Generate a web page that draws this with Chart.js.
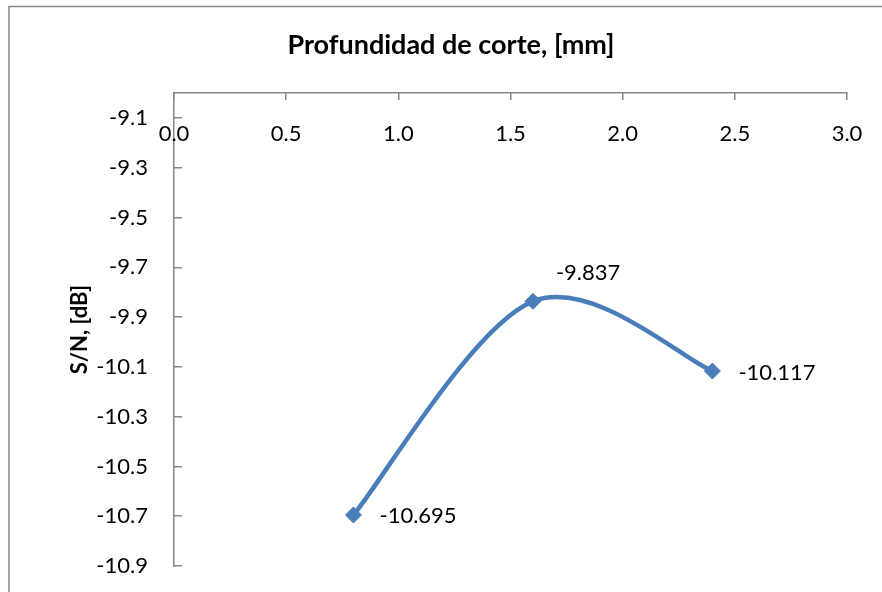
<!DOCTYPE html>
<html><head><meta charset="utf-8">
<script src="https://cdn.jsdelivr.net/npm/chart.js@4/dist/chart.umd.min.js"></script>
<style>html,body{margin:0;padding:0;background:#fff}</style>
</head><body>
<canvas id="c" width="882" height="592"></canvas>
<script>
const depthValues = [0.8, 1.6, 2.4];
const snValues = [-10.695, -9.837, -10.117];
const xTickValues = [0.0, 0.5, 1.0, 1.5, 2.0, 2.5, 3.0];
const yTickValues = [-10.9, -10.7, -10.5, -10.3, -10.1, -9.9, -9.7, -9.5, -9.3, -9.1];
const chartTitle = 'Profundidad de corte, [mm]';
const yTitle = 'S/N, [dB]';

const FONT = "Lato, 'Open Sans', sans-serif";
const AXIS = '#868686';
const LINE = '#4A7EBB';

const frame = {
  id: 'frame',
  beforeDraw(chart) {
    const ctx = chart.ctx;
    ctx.save();
    ctx.fillStyle = '#fff';
    ctx.fillRect(0, 0, chart.width, chart.height);
    ctx.strokeStyle = AXIS;
    ctx.lineWidth = 1.5;
    ctx.strokeRect(9, 6.5, 2000, 2000);
    ctx.restore();
  }
};

// Spreadsheet-style smoothing: control points at +/- (next - prev) * k around each point
const sheetSmooth = {
  id: 'sheetSmooth',
  beforeDatasetsDraw(chart, args, opts) {
    chart.data.datasets.forEach((ds, di) => {
      const meta = chart.getDatasetMeta(di);
      const line = meta.dataset;
      if (!line) return;
      line.updateControlPoints(chart.chartArea, 'x');
      const pts = meta.data;
      const k = opts.factor;
      pts.forEach((p, i) => {
        const prev = pts[Math.max(i - 1, 0)];
        const next = pts[Math.min(i + 1, pts.length - 1)];
        const dx = (next.x - prev.x) * k, dy = (next.y - prev.y) * k;
        p.cp1x = p.x - dx; p.cp1y = p.y - dy;
        p.cp2x = p.x + dx; p.cp2y = p.y + dy;
      });
      line._path = undefined;
    });
  }
};

const xLabels = {
  id: 'xLabels',
  afterDraw(chart, args, opts) {
    const s = chart.scales.x, ctx = chart.ctx;
    ctx.save();
    ctx.font = opts.size + 'px ' + FONT;
    ctx.fillStyle = '#000';
    ctx.textAlign = 'center';
    ctx.textBaseline = 'middle';
    s.ticks.forEach(t => ctx.fillText(t.value.toFixed(1), s.getPixelForValue(t.value), chart.chartArea.top + opts.offset));
    ctx.restore();
  }
};

const dataLabels = {
  id: 'dataLabels',
  afterDatasetsDraw(chart, args, opts) {
    const ctx = chart.ctx;
    const meta = chart.getDatasetMeta(0);
    ctx.save();
    ctx.font = opts.size + 'px ' + FONT;
    ctx.fillStyle = '#000';
    ctx.textAlign = 'left';
    ctx.textBaseline = 'middle';
    meta.data.forEach((pt, i) => {
      const o = opts.offsets[i];
      ctx.fillText(snValues[i].toFixed(3), pt.x + o[0], pt.y + o[1]);
    });
    ctx.restore();
  }
};

new Chart(document.getElementById('c'), {
  type: 'line',
  data: {
    datasets: [{
      data: depthValues.map((x, i) => ({x, y: snValues[i]})),
      borderColor: LINE,
      backgroundColor: LINE,
      borderWidth: 4.5,
      tension: 0.4,
      pointStyle: 'rectRot',
      pointRadius: 8,
      pointBorderWidth: 1,
      pointBorderColor: LINE,
      pointBackgroundColor: LINE,
      clip: false
    }]
  },
  options: {
    responsive: false,
    animation: false,
    devicePixelRatio: 1,
    layout: {padding: {left: 20, right: 0, top: 0, bottom: 26}},
    plugins: {
      legend: {display: false},
      tooltip: {enabled: false},
      title: {
        display: true, text: chartTitle, color: '#000',
        font: {family: FONT, size: 27, weight: 'bold', lineHeight: 1.2},
        padding: {top: 28.8, bottom: 0}
      },
      sheetSmooth: {factor: 1 / 6},
      xLabels: {size: 22, offset: 41},
      dataLabels: {size: 22, offsets: [[26, 1], [23, -28], [26, 2]]}
    },
    scales: {
      x: {
        type: 'linear', position: 'top', min: 0, max: 3,
        afterBuildTicks: s => { s.ticks = xTickValues.map(v => ({value: v})); },
        afterFit: s => { s.height = 31.8; s.paddingLeft = 0; s.paddingRight = 0; },
        ticks: {display: false, autoSkip: false},
        grid: {drawOnChartArea: false, drawTicks: true, tickLength: -7, color: AXIS, lineWidth: 1.5},
        border: {display: true, color: AXIS, width: 1.5}
      },
      y: {
        type: 'linear', position: 'left', min: -10.9, max: -9.0,
        afterBuildTicks: s => { s.ticks = yTickValues.map(v => ({value: v})); },
        afterFit: s => { s.width = 154; s.paddingTop = 0; s.paddingBottom = 0; },
        ticks: {color: '#000', font: {family: FONT, size: 22}, padding: 34, autoSkip: false,
                callback: v => Number(v).toFixed(1)},
        grid: {drawOnChartArea: false, drawTicks: true, tickLength: -8, color: AXIS, lineWidth: 1.5},
        border: {display: true, color: AXIS, width: 1.5},
        title: {display: true, text: yTitle, color: '#000', font: {family: FONT, size: 22, weight: 'bold'},
                padding: {top: 47, bottom: 0}}
      },
      y2: {
        type: 'linear', position: 'right', display: true,
        afterFit: s => { s.width = 35; s.paddingTop = 0; s.paddingBottom = 0; },
        ticks: {display: false},
        grid: {display: false},
        border: {display: false}
      }
    }
  },
  plugins: [frame, sheetSmooth, xLabels, dataLabels]
});
</script>
</body></html>
